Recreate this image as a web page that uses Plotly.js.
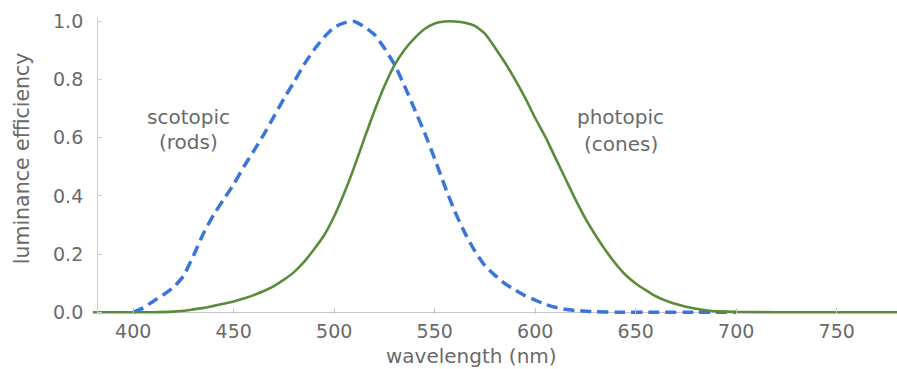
<!DOCTYPE html>
<html>
<head>
<meta charset="utf-8">
<script src="https://cdn.plot.ly/plotly-3.0.1.min.js"></script>
<style>html,body{margin:0;padding:0;background:#fff;}#chart{width:897px;height:369px;}</style>
</head>
<body>
<div id="chart"></div>
<script>
// Photopic (cones) curve
const photopicWavelength = [380,390,400,410,420,425,430,435,440,445,450,455,460,465,470,475,480,485,490,495,500,505,510,515,520,525,530,535,540,545,550,555,560,565,570,575,580,585,590,595,600,605,610,615,620,625,630,635,640,645,650,655,660,665,670,675,680,685,690,695,700,720,750,780];
const photopicValue = [0,0,0,0,0.002,0.005,0.010,0.015,0.022,0.029,0.037,0.047,0.059,0.073,0.090,0.112,0.138,0.173,0.217,0.265,0.330,0.410,0.500,0.598,0.692,0.778,0.850,0.903,0.943,0.974,0.993,1.000,1.000,0.996,0.985,0.958,0.910,0.858,0.800,0.737,0.668,0.604,0.532,0.460,0.388,0.322,0.265,0.213,0.167,0.128,0.099,0.076,0.055,0.040,0.028,0.019,0.012,0.007,0.003,0.002,0.001,0,0,0];

// Scotopic (rods) curve
const scotopicWavelength = [400,405,410,415,420,425,430,435,440,445,450,455,460,465,470,475,480,485,490,495,500,505,510,515,520,525,530,535,540,545,550,555,560,565,570,575,580,585,590,595,600,605,610,615,620,630,640,660,680,700];
const scotopicValue = [0,0.015,0.038,0.060,0.085,0.125,0.195,0.272,0.335,0.388,0.440,0.500,0.555,0.612,0.673,0.735,0.792,0.852,0.903,0.946,0.980,0.995,1.000,0.982,0.955,0.908,0.852,0.778,0.698,0.617,0.528,0.434,0.347,0.273,0.210,0.160,0.127,0.098,0.077,0.057,0.042,0.027,0.017,0.010,0.006,0.002,0,0,0,0];

// Axis ticks
const xTickValues = [400,450,500,550,600,650,700,750];
const yTickValues = [0,0.2,0.4,0.6,0.8,1.0];
const yTickLabels = ['0.0','0.2','0.4','0.6','0.8','1.0'];

const FONT = 'DejaVu Sans, Liberation Sans, Arial, sans-serif';
const GREY = '#6a6a6a';

const traces = [
  {
    x: scotopicWavelength, y: scotopicValue, type: 'scatter', mode: 'lines',
    name: 'scotopic', line: {color: '#3a76da', width: 3.5, dash: '11px,6px', shape: 'spline', smoothing: 0.5},
    hoverinfo: 'x+y'
  },
  {
    x: photopicWavelength, y: photopicValue, type: 'scatter', mode: 'lines',
    name: 'photopic', line: {color: '#5a8b3a', width: 2.6, shape: 'spline', smoothing: 0.5},
    hoverinfo: 'x+y'
  }
];

const layout = {
  width: 897, height: 369,
  margin: {l: 93, r: 0, t: 17.5, b: 55.3, pad: 0},
  paper_bgcolor: '#ffffff', plot_bgcolor: '#ffffff',
  showlegend: false,
  font: {family: FONT, color: GREY},
  xaxis: {
    range: [380, 780], showgrid: false, zeroline: false, showline: false,
    ticks: 'inside', ticklen: 6, tickwidth: 1, tickcolor: '#c4c4c4',
    tickvals: xTickValues, ticklabelstandoff: 4,
    tickfont: {family: FONT, size: 19, color: GREY}
  },
  yaxis: {
    range: [-0.006, 1.012], anchor: 'free', position: 0.005,
    showgrid: false, showline: true, linecolor: '#cfcfcf', linewidth: 1,
    zeroline: true, zerolinecolor: '#c8c8c8', zerolinewidth: 1.2,
    ticks: 'inside', ticklen: 4, tickwidth: 1, tickcolor: '#cfcfcf',
    tickvals: yTickValues, ticktext: yTickLabels, ticklabelstandoff: 10,
    tickfont: {family: FONT, size: 19, color: GREY}
  },
  annotations: [
    {text: 'wavelength (nm)', xref: 'paper', yref: 'paper', x: 0.471, y: -0.143,
     xanchor: 'center', yanchor: 'middle', showarrow: false,
     font: {family: FONT, size: 20, color: GREY}},
    {text: 'luminance efficiency', xref: 'paper', yref: 'paper', x: -0.088, y: 0.527,
     xanchor: 'center', yanchor: 'middle', textangle: -90, showarrow: false,
     font: {family: FONT, size: 20.5, color: GREY}},
    {text: 'scotopic', x: 427.3, y: 0.672, xref: 'x', yref: 'y', showarrow: false,
     xanchor: 'center', yanchor: 'middle', font: {family: FONT, size: 20, color: GREY}},
    {text: '(rods)', x: 427.3, y: 0.585, xref: 'x', yref: 'y', showarrow: false,
     xanchor: 'center', yanchor: 'middle', font: {family: FONT, size: 20, color: GREY}},
    {text: 'photopic', x: 642.5, y: 0.672, xref: 'x', yref: 'y', showarrow: false,
     xanchor: 'center', yanchor: 'middle', font: {family: FONT, size: 20, color: GREY}},
    {text: '(cones)', x: 642.5, y: 0.577, xref: 'x', yref: 'y', showarrow: false,
     xanchor: 'center', yanchor: 'middle', font: {family: FONT, size: 20, color: GREY}}
  ]
};

Plotly.newPlot('chart', traces, layout, {displayModeBar: false, staticPlot: true});
</script>
</body>
</html>
